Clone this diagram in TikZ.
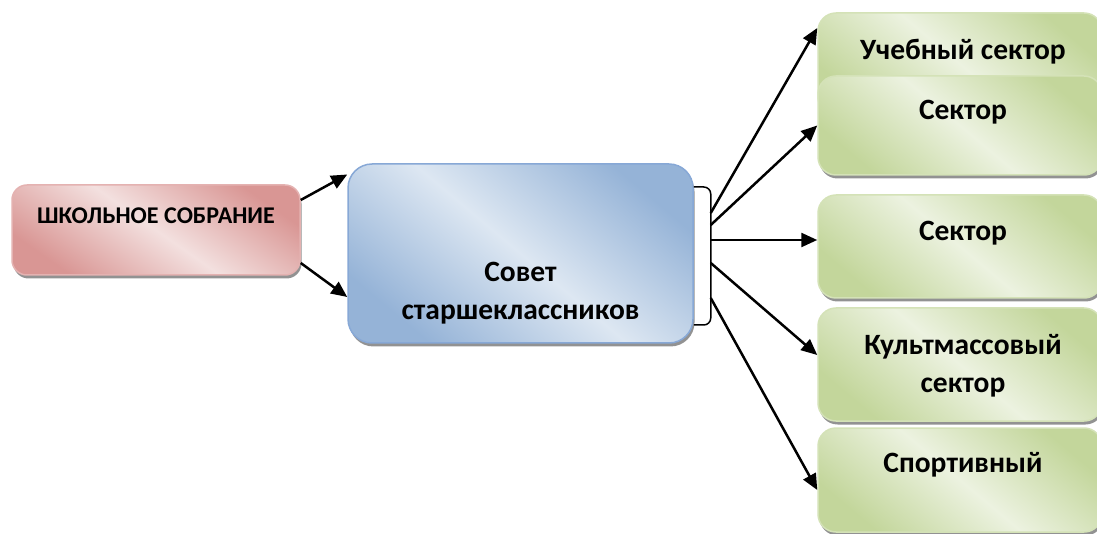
\documentclass[tikz,border=0pt]{standalone}
\usepackage{fontspec}
\setmainfont{Carlito}
\usepackage{xcolor}
\usepackage{tikz}
\usetikzlibrary{shapes,shadows,arrows.meta,calc}

\definecolor{pinkDark}{RGB}{217,150,148}
\definecolor{pinkLight}{RGB}{243,224,223}
\definecolor{pinkLine}{RGB}{228,178,177}
\definecolor{blueDark}{RGB}{149,179,215}
\definecolor{blueLight}{RGB}{221,231,242}
\definecolor{blueLine}{RGB}{135,168,214}
\definecolor{greenDark}{RGB}{195,214,155}
\definecolor{greenLight}{RGB}{236,242,224}
\definecolor{greenLine}{RGB}{212,226,183}

\tikzstyle{tsBoldText} = [
    text=black,
    font=\bfseries\fontsize{29.5}{38}\selectfont,
    align=center
]
\tikzstyle{tsSmallBold} = [
    tsBoldText,
    font=\bfseries\fontsize{24}{28}\selectfont
]
\tikzstyle{tsBox} = [
    rectangle,
    line width=1.5pt,
    drop shadow={shadow xshift=1.5pt, shadow yshift=-3.5pt, fill=black!85}
]
\tikzstyle{tsPinkBox} = [
    tsBox,
    draw=pinkLine,
    rounded corners=15pt,
    top color=pinkDark, bottom color=pinkDark, middle color=pinkLight,
    shading angle=-35
]
\tikzstyle{tsBlueBox} = [
    tsBox,
    draw=blueLine,
    rounded corners=24pt,
    top color=blueDark, bottom color=blueDark, middle color=blueLight,
    shading angle=-40
]
\tikzstyle{tsGreenBox} = [
    tsBox,
    draw=greenLine,
    rounded corners=18pt,
    minimum width=284pt,
    top color=greenDark, bottom color=greenDark, middle color=greenLight,
    shading angle=-40
]
\tikzstyle{tsArrow} = [
    line width=2.5pt,
    -{Triangle[length=16pt,width=14pt]}
]
\tikzstyle{tsBracket} = [
    line width=1.5pt,
    rounded corners=7pt
]

\begin{document}
\begin{tikzpicture}[x=1pt, y=-1pt]

        \useasboundingbox (0,0) rectangle (1097,534);
        \clip (0,0) rectangle (1097,534);

        % left side
        \node[tsPinkBox, minimum width=288pt, minimum height=90pt] (school) at (156,230) { };
        \node[tsBlueBox, minimum width=345pt, minimum height=179pt] (council) at (520.5,253.5) { };

        % sectors
        \node[tsGreenBox, minimum height=102pt] (study) at (960,64) { };
        \node[tsGreenBox, minimum height=99pt] (sectorA) at (960,125.5) { };
        \node[tsGreenBox, minimum height=103pt] (sectorB) at (960,246.5) { };
        \node[tsGreenBox, minimum height=113pt] (mass) at (960,364.5) { };
        \node[tsGreenBox, minimum height=104pt] (sport) at (960,480) { };

        \node[tsSmallBold, anchor=base] (schoolText) at ([yshift=-39pt]school.north) {ШКОЛЬНОЕ СОБРАНИЕ};
        \node[tsBoldText] (councilText) at ([yshift=-130pt]council.north) {Совет\\старшеклассников};
        \node[tsBoldText, anchor=base] (studyText) at ([xshift=3pt,yshift=-47pt]study.north) {Учебный сектор};
        \node[tsBoldText, anchor=base] (sectorAText) at ([xshift=3pt,yshift=-44pt]sectorA.north) {Сектор};
        \node[tsBoldText, anchor=base] (sectorBText) at ([xshift=3pt,yshift=-46pt]sectorB.north) {Сектор};
        \node[tsBoldText] (massText) at ([xshift=3pt,yshift=-59pt]mass.north) {Культмассовый\\сектор};
        \node[tsBoldText, anchor=base] (sportText) at ([xshift=3pt,yshift=-45pt]sport.north) {Спортивный};

        % bracket
        \coordinate (brTop) at ([yshift=66.5pt]council.east);
        \coordinate (brBot) at ([yshift=-71.5pt]council.east);
        \draw[tsBracket] (brTop) -- ++(17,0) |- (brBot);

        \coordinate (outA) at ($(brTop)+(17,26)$);
        \coordinate (outB) at ($(brTop)+(17,38)$);
        \coordinate (outC) at ($(brTop)+(17,53)$);
        \coordinate (outD) at ($(brTop)+(17,76)$);
        \coordinate (outE) at ($(brTop)+(17,111)$);

        % arrows
        \draw[tsArrow] ([yshift=30pt]school.east) -- ([yshift=79pt]council.west);
        \draw[tsArrow] ([yshift=-33pt]school.east) -- ([yshift=-43.5pt]council.west);

        \draw[tsArrow] (outA) -- ([yshift=36pt]study.west);
        \draw[tsArrow] (outB) -- (sectorA.west);
        \draw[tsArrow] (outC) -- ([yshift=6.5pt]sectorB.west);
        \draw[tsArrow] (outD) -- ([yshift=9.5pt]mass.west);
        \draw[tsArrow] (outE) -- ([yshift=-10pt]sport.west);

\end{tikzpicture}
\end{document}
